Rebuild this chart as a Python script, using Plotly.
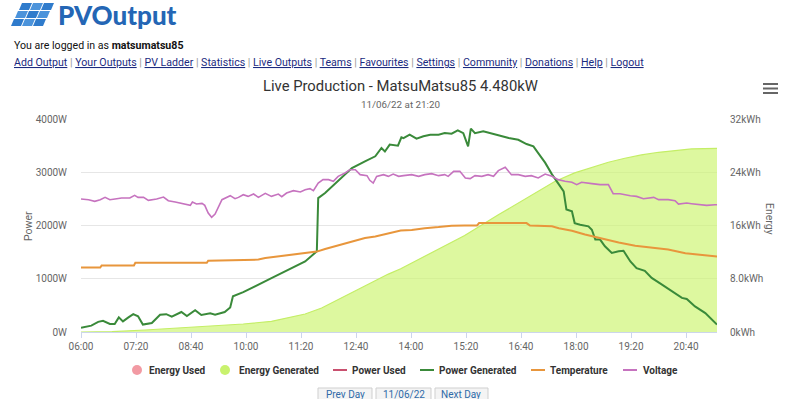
import plotly.graph_objects as go

DAY = "2022-06-11"

# ---------------- data ----------------
gen_time = ["06:00","06:15","06:25","06:32","06:42","06:49","06:55","07:01","07:09","07:16","07:23","07:30",
            "07:43","07:55","08:04","08:12","08:26","08:34","08:46","08:55","09:08","09:15","09:29","09:37",
            "09:41","09:56","10:37","11:26","11:43","11:45","11:55","12:14","12:34","12:53","13:08","13:17",
            "13:22","13:29","13:41","13:46","13:49","13:58","14:08","14:18","14:28","14:40","14:49","14:59",
            "15:08","15:16","15:21","15:23","15:27","15:33","15:45","15:57","16:07","16:22","16:36","16:48",
            "16:58","17:05","17:15","17:25","17:33","17:42","17:46","17:54","17:58","18:06","18:18","18:23",
            "18:28","18:35","18:42","18:52","19:02","19:09","19:19","19:28","19:40","19:50","20:05","20:19",
            "20:34","20:41","20:53","21:08","21:22","21:25"]
power_generated = [80,120,190,210,150,150,275,200,275,335,295,140,
                   170,325,335,290,375,300,410,320,350,325,375,460,
                   670,750,1010,1325,1515,2515,2610,2830,3080,3205,3300,3455,
                   3390,3520,3500,3655,3640,3705,3630,3675,3705,3705,3735,3725,
                   3785,3735,3550,3485,3820,3735,3770,3735,3695,3645,3610,3530,
                   3485,3360,3180,2960,2820,2640,2300,2265,2045,2015,1985,1920,
                   1735,1735,1610,1485,1515,1525,1325,1200,1150,1015,890,775,
                   640,620,480,355,170,140]

volt_time = ["06:00","06:11","06:20","06:28","06:35","06:42","06:52","06:59","07:11","07:18","07:23","07:31",
             "07:38","07:50","08:00","08:07","08:17","08:24","08:31","08:39","08:42","08:48","08:56","09:00",
             "09:05","09:10","09:15","09:25","09:37","09:44","09:49","09:56","10:03","10:11","10:18","10:28",
             "10:37","10:47","10:52","10:59","11:09","11:19","11:26","11:33","11:38","11:45","11:52","12:00",
             "12:07","12:14","12:24","12:31","12:39","12:46","12:56","13:00","13:05","13:10","13:20","13:27",
             "13:34","13:42","13:49","14:01","14:11","14:20","14:30","14:40","14:49","14:54","15:02","15:11",
             "15:19","15:26","15:33","15:43","15:52","16:00","16:07","16:17","16:26","16:36","16:46","16:55",
             "17:05","17:15","17:25","17:34","17:44","17:54","18:01","18:08","18:23","18:35","18:47","18:54",
             "19:04","19:11","19:19","19:28","19:38","19:53","20:00","20:14","20:24","20:29","20:41","20:48",
             "20:58","21:10","21:22","21:25"]
voltage = [249.8,248.5,245.3,248.5,252.8,248.5,250.3,251.6,251.6,256.6,252.8,252.8,
           247.2,249.8,253.5,246.6,244.1,242.2,240.3,237.8,244.1,240.3,241.6,237.8,
           223.5,215.3,221.5,248.5,256.0,250.3,252.8,257.8,254.7,259.1,252.8,260.4,
           254.7,259.1,254.1,261.0,265.4,262.9,267.3,269.2,265.4,279.8,286.1,286.1,
           283.0,292.3,298.6,304.8,304.8,295.5,293.6,284.9,279.8,292.3,295.5,292.3,
           296.7,292.3,293.6,295.5,292.3,295.5,297.3,293.6,295.5,292.3,301.7,301.7,
           289.2,288.0,293.6,292.3,295.5,292.3,303.0,309.2,295.5,295.5,292.3,293.6,
           289.2,296.7,292.3,286.1,283.0,281.1,276.7,281.1,278.6,276.7,276.7,259.7,
           259.7,257.8,256.0,254.7,250.3,252.8,248.5,248.5,246.6,240.3,242.2,241.0,
           239.1,237.8,239.1,239.1]

temp_time = ["06:00","06:28","06:30","07:17","07:19","09:03","09:05","09:49","10:18","10:28","10:47","11:06",
             "11:26","11:43","11:55","12:10","12:24","12:39","12:53","13:08","13:22","13:37","13:45","14:01",
             "14:20","14:40","14:59","15:18","15:36","15:39","16:48","16:53","17:25","17:35","17:54","18:13",
             "18:37","19:02","19:26","19:50","20:14","20:39","21:03","21:22","21:25"]
temperature = [12.1,12.1,12.5,12.5,13.0,13.0,13.4,13.45,13.6,13.9,14.2,14.5,
               14.8,15.1,15.6,16.1,16.7,17.15,17.65,17.95,18.4,18.9,19.05,19.15,
               19.5,19.7,19.95,20.0,20.0,20.45,20.45,20.0,19.85,19.5,19.0,18.3,
               17.5,16.8,16.2,15.9,15.5,14.8,14.5,14.2,14.2]

energy_time = ["06:00","06:45","07:33","08:21","09:10","09:56","10:37","11:26","11:50","12:14","12:38","13:03",
               "13:27","13:45","14:30","15:18","16:07","16:55","17:29","17:58","18:23","18:47","19:11","19:35",
               "20:00","20:24","20:48","21:25"]
energy_generated = [0,0.05,0.3,0.6,0.9,1.2,1.6,2.7,3.6,4.85,6.1,7.36,
                    8.7,9.5,11.9,14.5,17.6,20.6,22.6,23.9,24.7,25.5,26.1,26.6,
                    27.0,27.3,27.5,27.6]

energy_used = []
power_used = []

x_ticks = ["06:00","07:20","08:40","10:00","11:20","12:40","14:00","15:20","16:40","18:00","19:20","20:40"]
power_ticks = [0, 1000, 2000, 3000, 4000]
power_labels = ["0W", "1000W", "2000W", "3000W", "4000W"]
energy_ticks = [0, 8, 16, 24, 32]
energy_labels = ["0kWh", "8.0kWh", "16kWh", "24kWh", "32kWh"]

legend_names = ["Energy Used", "Energy Generated", "Power Used", "Power Generated", "Temperature", "Voltage"]
nav_links = ["Add Output", "Your Outputs", "PV Ladder", "Statistics", "Live Outputs", "Teams",
             "Favourites", "Settings", "Community", "Donations", "Help", "Logout"]
buttons = ["Prev Day", "11/06/22", "Next Day"]

# ---------------- styling ----------------
C_EU = "#f29aa3"
C_EG = "#c9f26e"
C_PU = "#c9506f"
C_PG = "#3a8a3a"
C_TEMP = "#e8963c"
C_VOLT = "#c673bf"
FONT = "Roboto"

def ts(hm):
    return f"{DAY} {hm}:00"

# plot area in pixels
L, R, T, B = 81, 717, 119, 332
W, H = 800, 399

def px(X):
    return (X - L) / (R - L)

def py(Y):
    return (B - Y) / (B - T)

fig = go.Figure()

# energy axis is the base axis (drawn first, beneath the lines)
fig.add_trace(go.Scatter(x=[], y=energy_used, yaxis="y",
                         mode="lines", line=dict(color=C_EU), name="Energy Used", showlegend=False))
fig.add_trace(go.Scatter(x=[ts(t) for t in energy_time], y=energy_generated, yaxis="y",
                         mode="lines", line=dict(color="#c4ee66", width=1.2),
                         fill="tozeroy", fillcolor="rgba(204,245,110,0.66)",
                         name="Energy Generated", showlegend=False, hoverinfo="skip"))
fig.add_trace(go.Scatter(x=[], y=power_used, yaxis="y2", mode="lines",
                         line=dict(color=C_PU), name="Power Used", showlegend=False))
fig.add_trace(go.Scatter(x=[ts(t) for t in gen_time], y=power_generated, yaxis="y2",
                         mode="lines", line=dict(color=C_PG, width=2),
                         name="Power Generated", showlegend=False))
fig.add_trace(go.Scatter(x=[ts(t) for t in temp_time], y=temperature, yaxis="y3",
                         mode="lines", line=dict(color=C_TEMP, width=2),
                         name="Temperature", showlegend=False))
fig.add_trace(go.Scatter(x=[ts(t) for t in volt_time], y=voltage, yaxis="y4",
                         mode="lines", line=dict(color=C_VOLT, width=1.6),
                         name="Voltage", showlegend=False))

axis_font = dict(family=FONT, size=10, color="#666666")

fig.update_layout(
    width=W, height=H,
    margin=dict(l=L, r=W - R, t=T, b=H - B, pad=0),
    paper_bgcolor="white", plot_bgcolor="white",
    font=dict(family=FONT, color="#333333"),
    showlegend=False,
    xaxis=dict(type="date", range=[ts("06:00"), ts("21:25")],
               tickvals=[ts(t) for t in x_ticks], ticktext=x_ticks,
               ticks="outside", ticklen=5, tickcolor="#ccd6eb", tickwidth=1,
               showline=True, linecolor="#ccd6eb", linewidth=1,
               showgrid=False, zeroline=False, tickfont=axis_font, fixedrange=True),
    yaxis=dict(side="right", range=[0, 32], tickvals=energy_ticks, ticktext=energy_labels,
               showgrid=True, gridcolor="#e6e6e6", gridwidth=1, zeroline=False,
               showline=False, ticks="", tickfont=axis_font, ticklabelstandoff=12, fixedrange=True),
    yaxis2=dict(side="left", overlaying="y", range=[0, 4000], tickvals=power_ticks,
                ticktext=power_labels, showgrid=False, zeroline=False, showline=False,
                ticks="", tickfont=axis_font, ticklabelstandoff=13, fixedrange=True),
    yaxis3=dict(overlaying="y", range=[0, 40], visible=False, fixedrange=True),
    yaxis4=dict(overlaying="y", range=[0, 400], visible=False, fixedrange=True),
)

ann = []
shapes = []

def text(X, Y, s, size=12, color="#333333", xanchor="left", yanchor="middle", angle=0, family=FONT):
    ann.append(dict(x=px(X), y=py(Y), xref="paper", yref="paper", text=s, showarrow=False,
                    xanchor=xanchor, yanchor=yanchor, textangle=angle,
                    font=dict(family=family, size=size, color=color)))

# axis titles
text(28, 226, "Power", size=10.5, color="#666666", xanchor="center", angle=-90)
text(770, 219, "Energy", size=10.5, color="#666666", xanchor="center", angle=90)

# chart title / subtitle
text(400, 86, "Live Production - MatsuMatsu85 4.480kW", size=14.8, color="#333333", xanchor="center")
text(400, 104, "11/06/22 at 21:20", size=9.8, color="#666666", xanchor="center")

# header
text(56, 15, "PVOutput", size=26, color="#2466b5", family="Lato Black, Lato", yanchor="middle")
text(12, 46, "You are logged in as <b>matsumatsu85</b>", size=10.6, color="#111111")
sep = " <span style='color:#999999'>|</span> "
links = sep.join(f"<span style='text-decoration:underline'>{n}</span>" for n in nav_links)
text(12, 63, links, size=10.6, color="#1b2a80")

# logo tiles
for r in range(3):
    for c in range(3):
        x0 = 22 + c * 11 - r * 4
        y0 = 3 + r * 8
        pts = [(x0, y0), (x0 + 10, y0), (x0 + 7, y0 + 7), (x0 - 3, y0 + 7)]
        path = "M " + " L ".join(f"{px(a)},{py(b)}" for a, b in pts) + " Z"
        shapes.append(dict(type="path", xref="paper", yref="paper", path=path,
                           fillcolor="#2f7bcc" if (r + c) % 2 == 0 else "#4b93db", line=dict(width=0)))

# hamburger
for yy in (84, 88.5, 93):
    shapes.append(dict(type="line", xref="paper", yref="paper", x0=px(763), x1=px(778),
                       y0=py(yy), y1=py(yy), line=dict(color="#666666", width=2)))

# legend
leg_y = 370
markers = [("circle", 137, C_EU), ("circle", 225, C_EG), ("line", 333, C_PU),
           ("line", 420, C_PG), ("line", 531, C_TEMP), ("line", 623, C_VOLT)]
text_x = [147, 237, 350, 437, 548, 641]
for (kind, mx, col), tx, name in zip(markers, text_x, legend_names):
    if kind == "circle":
        shapes.append(dict(type="circle", xref="paper", yref="paper", x0=px(mx - 5), x1=px(mx + 5),
                           y0=py(leg_y + 5), y1=py(leg_y - 5), fillcolor=col, line=dict(width=0)))
    else:
        shapes.append(dict(type="line", xref="paper", yref="paper", x0=px(mx), x1=px(mx + 14),
                           y0=py(leg_y), y1=py(leg_y), line=dict(color=col, width=2)))
    text(tx, leg_y, f"<b>{name}</b>", size=10, color="#333333")

# nav buttons
btn_x = [(318, 372), (376, 431), (435, 488)]
for (a, b), lab in zip(btn_x, buttons):
    shapes.append(dict(type="rect", xref="paper", yref="paper", x0=px(a), x1=px(b),
                       y0=py(408), y1=py(388), fillcolor="#f4f4f4", line=dict(color="#cfcfcf", width=1)))
    text((a + b) / 2, 394, lab, size=10, color="#2f6aa8", xanchor="center")

fig.update_layout(annotations=ann, shapes=shapes)
fig.write_html("out.html", config={"displayModeBar": False},
               post_script="document.body.style.margin='0px'; document.body.style.overflow='hidden';")
